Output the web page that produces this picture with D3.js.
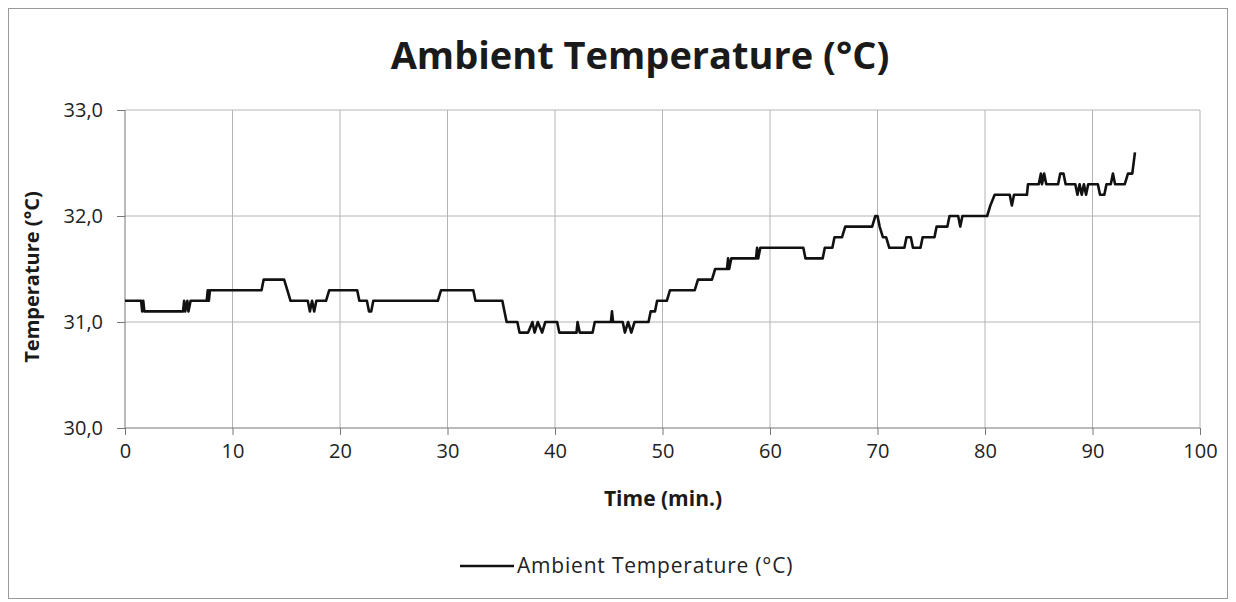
<!DOCTYPE html>
<html lang="en">
<head>
  <meta charset="UTF-8">
  <title>Ambient Temperature</title>
  <style>
    body { margin: 0; background: #fff; }
    svg { display: block; }
    .grid line { stroke: #b4b4b4; stroke-width: 1; }
    .axis text { font-family: "Open Sans", sans-serif; font-size: 20px; fill: #222; }
    .axis path, .axis line { stroke: #777; }
    .title { font-family: "Open Sans", sans-serif; font-weight: bold; fill: #1a1a1a; }
    .axis-title { font-family: "Open Sans", sans-serif; font-weight: bold; font-size: 21px; fill: #1a1a1a; }
    .legend { font-family: "Open Sans", sans-serif; font-size: 21px; letter-spacing: 0.8px; fill: #222; }
  </style>
</head>
<body>
  <svg id="chart" width="1236" height="602"></svg>
  <script src="https://d3js.org/d3.v7.min.js"></script>
  <script>
    // readings (minutes, °C)
    const times = [
      0, 1.5, 1.6, 1.7, 1.8, 5.4, 5.5, 5.6, 5.8, 5.9, 6.1, 7.6, 7.7, 7.8, 7.9,
      12.7, 12.9, 14.8, 15.1, 15.4, 17.0, 17.2, 17.4, 17.6, 17.8, 18.7, 19.0,
      21.6, 21.8, 22.5, 22.7, 22.9, 23.1, 29.1, 29.4, 32.4, 32.6, 35.1, 35.3,
      35.5, 36.5, 36.7, 37.5, 37.9, 38.1, 38.4, 38.8, 39.1, 40.2, 40.4, 42.0,
      42.1, 42.3, 43.5, 43.7, 45.2, 45.3, 45.4, 46.3, 46.5, 46.8, 47.1, 47.4,
      48.7, 48.9, 49.3, 49.5, 50.4, 50.7, 53.0, 53.3, 54.6, 54.9, 56.0, 56.1,
      56.2, 56.4, 58.7, 58.8, 58.9, 59.1, 63.1, 63.3, 64.9, 65.1, 65.8, 66.0,
      66.7, 67.0, 69.5, 69.8, 70.0, 70.2, 70.5, 70.8, 71.1, 72.5, 72.7, 73.1,
      73.3, 74.0, 74.2, 75.3, 75.5, 76.5, 76.7, 77.5, 77.7, 77.9, 80.2, 80.5,
      80.9, 82.3, 82.5, 82.7, 83.9, 84.0, 85.0, 85.2, 85.3, 85.5, 85.7, 86.8,
      87.0, 87.3, 87.5, 88.4, 88.6, 88.8, 89.0, 89.2, 89.4, 89.6, 90.5, 90.7,
      91.1, 91.3, 91.7, 91.9, 92.1, 93.0, 93.3, 93.7, 93.95
    ];
    const temps = [
      31.2, 31.2, 31.1, 31.2, 31.1, 31.1, 31.2, 31.1, 31.2, 31.1, 31.2, 31.2, 31.3, 31.2, 31.3,
      31.3, 31.4, 31.4, 31.3, 31.2, 31.2, 31.1, 31.2, 31.1, 31.2, 31.2, 31.3,
      31.3, 31.2, 31.2, 31.1, 31.1, 31.2, 31.2, 31.3, 31.3, 31.2, 31.2, 31.1,
      31.0, 31.0, 30.9, 30.9, 31.0, 30.9, 31.0, 30.9, 31.0, 31.0, 30.9, 30.9,
      31.0, 30.9, 30.9, 31.0, 31.0, 31.1, 31.0, 31.0, 30.9, 31.0, 30.9, 31.0,
      31.0, 31.1, 31.1, 31.2, 31.2, 31.3, 31.3, 31.4, 31.4, 31.5, 31.5, 31.6,
      31.5, 31.6, 31.6, 31.7, 31.6, 31.7, 31.7, 31.6, 31.6, 31.7, 31.7, 31.8,
      31.8, 31.9, 31.9, 32.0, 32.0, 31.9, 31.8, 31.8, 31.7, 31.7, 31.8, 31.8,
      31.7, 31.7, 31.8, 31.8, 31.9, 31.9, 32.0, 32.0, 31.9, 32.0, 32.0, 32.1,
      32.2, 32.2, 32.1, 32.2, 32.2, 32.3, 32.3, 32.4, 32.3, 32.4, 32.3, 32.3,
      32.4, 32.4, 32.3, 32.3, 32.2, 32.3, 32.2, 32.3, 32.2, 32.3, 32.3, 32.2,
      32.2, 32.3, 32.3, 32.4, 32.3, 32.3, 32.4, 32.4, 32.6
    ];
    const xTicks = [0, 10, 20, 30, 40, 50, 60, 70, 80, 90, 100];
    const yTicks = [30, 31, 32, 33];

    const svg = d3.select("#chart");
    const W = 1236, H = 602;
    const plot = { left: 125, right: 1200, top: 110, bottom: 428 };

    // frame of the whole chart
    svg.append("rect")
      .attr("x", 8.5).attr("y", 8.5)
      .attr("width", W - 17).attr("height", H - 12)
      .attr("fill", "none").attr("stroke", "#9a9a9a");

    const x = d3.scaleLinear().domain([0, 100]).range([plot.left, plot.right]);
    const y = d3.scaleLinear().domain([30, 33]).range([plot.bottom, plot.top]);

    // gridlines
    const grid = svg.append("g").attr("class", "grid");
    grid.selectAll(".vg").data(xTicks.slice(1)).join("line")
      .attr("x1", d => x(d)).attr("x2", d => x(d))
      .attr("y1", plot.top).attr("y2", plot.bottom);
    grid.selectAll(".hg").data(yTicks.slice(1)).join("line")
      .attr("x1", plot.left).attr("x2", plot.right)
      .attr("y1", d => y(d)).attr("y2", d => y(d));

    const fmt = d => d3.format(".1f")(d).replace(".", ",");

    svg.append("g").attr("class", "axis")
      .attr("transform", `translate(${plot.left},0)`)
      .call(d3.axisLeft(y).tickValues(yTicks).tickFormat(fmt).tickSize(8).tickPadding(14))
      .call(g => g.select(".domain").attr("d", `M0,${plot.top}V${plot.bottom}`));

    svg.append("g").attr("class", "axis")
      .attr("transform", `translate(0,${plot.bottom})`)
      .call(d3.axisBottom(x).tickValues(xTicks).tickSize(7).tickPadding(9))
      .call(g => g.select(".domain").attr("d", `M${plot.left},0H${plot.right}`));

    // series
    const pts = times.map((t, i) => [t, temps[i]]);
    svg.append("path")
      .datum(pts)
      .attr("fill", "none")
      .attr("stroke", "#111")
      .attr("stroke-width", 2.6)
      .attr("stroke-linejoin", "round")
      .attr("d", d3.line().x(d => x(d[0])).y(d => y(d[1])));

    svg.append("text").attr("class", "title")
      .attr("x", 640).attr("y", 69)
      .attr("text-anchor", "middle")
      .style("font-size", "38px")
      .text("Ambient Temperature (°C)");

    svg.append("text").attr("class", "axis-title")
      .attr("transform", `translate(39,${(plot.top + plot.bottom) / 2 + 8}) rotate(-90)`)
      .attr("text-anchor", "middle")
      .style("font-size", "20px")
      .text("Temperature (°C)");

    svg.append("text").attr("class", "axis-title")
      .attr("x", 663).attr("y", 506)
      .attr("text-anchor", "middle")
      .text("Time (min.)");

    // legend
    svg.append("line")
      .attr("x1", 460).attr("x2", 514)
      .attr("y1", 566).attr("y2", 566)
      .attr("stroke", "#111").attr("stroke-width", 2.6);
    svg.append("text").attr("class", "legend")
      .attr("x", 517).attr("y", 573)
      .text("Ambient Temperature (°C)");
  </script>
</body>
</html>
